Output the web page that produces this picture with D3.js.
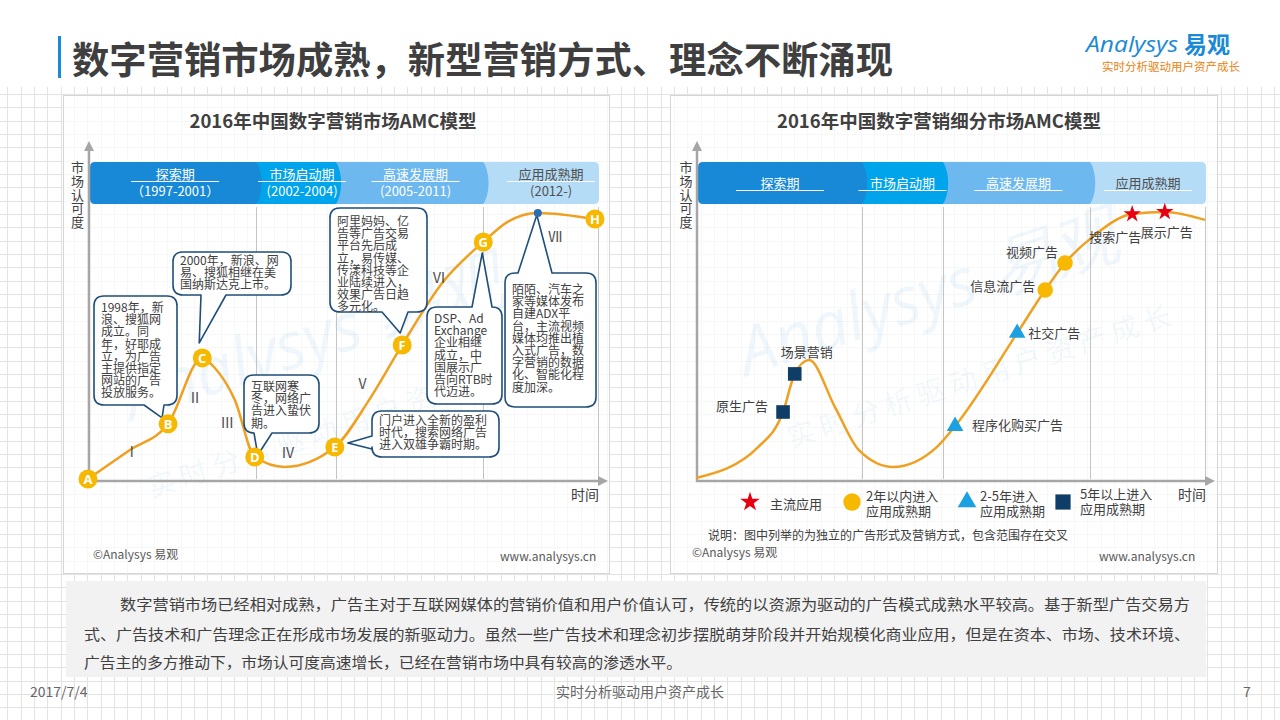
<!DOCTYPE html>
<html><head><meta charset="utf-8">
<script src="https://cdn.jsdelivr.net/npm/d3@7"></script>
<style>
body{margin:0;background:#fff;}
svg{display:block;font-family:"Noto Sans CJK SC","Noto Sans",sans-serif;}
</style></head><body>
<svg id="c" width="1280" height="720"></svg>
<script>
// ---------------- DATA ----------------
const pageTitle = "数字营销市场成熟，新型营销方式、理念不断涌现";
const leftTitle = "2016年中国数字营销市场AMC模型";
const rightTitle = "2016年中国数字营销细分市场AMC模型";
const axisYLabel = ["市","场","认","可","度"];
const axisXLabel = "时间";

const phaseNames = ["探索期","市场启动期","高速发展期","应用成熟期"];
const phaseYears = ["（1997-2001）","(2002-2004)","(2005-2011)","(2012-)"];
const leftPhaseBounds = [0, 33, 48.6, 77.5, 100];
const rightPhaseBounds = [0, 32.6, 48.5, 77.4, 100];

// left curve (time, recognition)
const leftCurveX = [0, 8.2, 15.7, 22.4, 24.7, 28.8, 32.7, 38.6, 48.4, 55.1, 61.6, 69.6, 77.5, 82.2, 88.2, 99.4];
const leftCurveY = [0.7, 11.2, 20.7, 44.6, 41.3, 29.3, 8.7, 5.1, 12.3, 29.3, 49.3, 72.1, 86.6, 93.8, 97.1, 94.9];

const milestoneLetters = ["A","B","C","D","E","F","G","","H"];
const milestoneX = [0, 15.7, 22.4, 32.7, 48.4, 61.6, 77.5, 88.2, 99.4];
const milestoneY = [0.7, 20.7, 44.6, 8.7, 12.3, 49.3, 86.6, 97.1, 94.9];

const stageNumerals = ["Ⅰ","Ⅱ","Ⅲ","Ⅳ","Ⅴ","Ⅵ","Ⅶ"];
const stageNumX = [8.6, 21.0, 27.3, 39.2, 53.8, 68.8, 91.6];
const stageNumY = [10.5, 30.1, 20.9, 10.1, 35.1, 73.6, 88.5];

const eventNotes = [
  ["1998年，新","浪、搜狐网","成立。同","年，好耶成","立，为广告","主提供指定","网站的广告","投放服务。"],
  ["2000年，新浪、网","易、搜狐相继在美","国纳斯达克上市。"],
  ["互联网寒","冬，网络广","告进入蛰伏","期。"],
  ["门户进入全新的盈利","时代，搜索网络广告","进入双雄争霸时期。"],
  ["阿里妈妈、亿","告等广告交易","平台先后成","立，易传媒、","传漾科技等企","业陆续进入，","效果广告日趋","多元化。"],
  ["DSP、Ad","Exchange","企业相继","成立，中","国展示广","告向RTB时","代迈进。"],
  ["陌陌、汽车之","家等媒体发布","自建ADX平","台，主流视频","媒体均推出植","入式广告，数","字营销的数据","化、智能化程","度加深。"]
];
const eventMilestone = [1, 2, 3, 4, 5, 6, 7];

// right curve
const rightCurveX = [0, 12.2, 17.1, 19.4, 22.2, 27.3, 32.0, 38.7, 47.3, 50.9, 63.1, 68.6, 72.5, 77.6, 85.7, 92.1, 100];
const rightCurveY = [1.1, 12.3, 25.0, 38.8, 43.8, 26.8, 11.2, 5.1, 12.3, 19.9, 53.6, 69.2, 79.0, 88.0, 96.7, 97.5, 94.6];

const adNames = ["原生广告","场景营销","程序化购买广告","社交广告","信息流广告","视频广告","搜索广告","展示广告"];
const adStage = [3, 3, 2, 2, 1, 1, 0, 0];
const adX = [17.1, 19.4, 50.9, 63.1, 68.6, 72.5, 85.7, 92.1];
const adY = [25.0, 38.8, 19.9, 53.6, 69.2, 79.0, 96.7, 97.5];

const legendLabels = [["主流应用"],["2年以内进入","应用成熟期"],["2-5年进入","应用成熟期"],["5年以上进入","应用成熟期"]];
const noteText = "说明：图中列举的为独立的广告形式及营销方式，包含范围存在交叉";
const sourceText = "©Analysys 易观";
const siteText = "www.analysys.cn";

const paragraph = [
  "数字营销市场已经相对成熟，广告主对于互联网媒体的营销价值和用户价值认可，传统的以资源为驱动的广告模式成熟水平较高。基于新型广告交易方",
  "式、广告技术和广告理念正在形成市场发展的新驱动力。虽然一些广告技术和理念初步摆脱萌芽阶段并开始规模化商业应用，但是在资本、市场、技术环境、",
  "广告主的多方推动下，市场认可度高速增长，已经在营销市场中具有较高的渗透水平。"
];
const footerDate = "2017/7/4";
const footerSlogan = "实时分析驱动用户资产成长";
const pageNumber = "7";

// ---------------- LAYOUT / STYLE ----------------
const TXT = "#404040";
const CURVE = "#f0a020";
const GOLD = "#f6b800";
const NAVY = "#1f4e79";
const bandColors = ["#1789d6","#00a4ea","#6db8ef","#b5dcf6"];
const bandTextColors = ["#fff","#fff","#fff","#505050"];
const stageColors = ["#e60012", GOLD, "#1ba1e2", "#0e3e68"];
const stageSymbols = [d3.symbolStar, d3.symbolCircle, d3.symbolTriangle, d3.symbolSquare];
const stageSizes = [95, 190, 120, 185];

const noteBoxes = [
  {x:94,y:296,w:83,h:109,ty:16,side:"bottom",a:144,b:164,dx:-6,dy:-6},
  {x:173,y:252,w:118,h:43,ty:13,side:"bottom",a:201,b:226,dx:-3,dy:-15},
  {x:244,y:375,w:75,h:58,ty:16,side:"bottom",a:254,b:272,dx:3,dy:-2},
  {x:372,y:411,w:127,h:46,ty:14,side:"left",a:436,b:449,dx:13,dy:-4},
  {x:330,y:208,w:97,h:104,ty:18,side:"bottom",a:382,b:408,dx:-2,dy:-12},
  {x:427,y:307,w:75,h:97,ty:16,side:"top",a:472,b:492,dx:-1,dy:11},
  {x:505,y:273,w:91,h:134,ty:21,side:"top",a:518,b:552,dx:-1,dy:2}
];
const adLabelPos = [
  {dx:-15,dy:-1,anchor:"end"},
  {dx:12,dy:-17,anchor:"middle"},
  {dx:17,dy:4,anchor:"start"},
  {dx:11,dy:5,anchor:"start"},
  {dx:-10,dy:1,anchor:"end"},
  {dx:-7,dy:-6,anchor:"end"},
  {dx:-17,dy:28,anchor:"middle"},
  {dx:2,dy:25,anchor:"middle"}
];

const svg = d3.select("#c");
svg.append("rect").attr("width",1280).attr("height",720).attr("fill","#fff");

// background grid
const gridStep = 1280/96;
const gridG = svg.append("g").attr("stroke","#e3e3e3").attr("stroke-width",1);
gridG.selectAll("line.gv").data(d3.range(7.3,1280,gridStep)).join("line").attr("class","gv")
  .attr("x1",d=>Math.round(d)+0.5).attr("x2",d=>Math.round(d)+0.5).attr("y1",87).attr("y2",720);
gridG.selectAll("line.gh").data(d3.range(94.0,720,gridStep)).join("line").attr("class","gh")
  .attr("y1",d=>Math.round(d)+0.5).attr("y2",d=>Math.round(d)+0.5).attr("x1",0).attr("x2",1280);

// header
svg.append("rect").attr("x",58).attr("y",36).attr("width",3).attr("height",42).attr("fill","#1a8ad6");
svg.append("text").attr("x",72).attr("y",74).attr("font-size",37).attr("font-weight","bold")
  .attr("fill","#3f3f3f").attr("textLength",821).attr("lengthAdjust","spacingAndGlyphs").text(pageTitle);
// logo
const logo = svg.append("g");
logo.append("text").attr("x",1086).attr("y",52).attr("font-size",21).attr("font-style","italic")
  .attr("font-family","'Open Sans',sans-serif").attr("fill","#1a8ad6").attr("textLength",92).attr("lengthAdjust","spacingAndGlyphs").text("Analysys");
logo.append("text").attr("x",1184).attr("y",53).attr("font-size",23).attr("font-weight","bold")
  .attr("fill","#1a8ad6").text("易观");
logo.append("text").attr("x",1102).attr("y",71).attr("font-size",11).attr("fill","#e8820f")
  .attr("textLength",138).attr("lengthAdjust","spacingAndGlyphs").text(footerSlogan);

// panels
[[63,95,546,478],[670,95,547,478]].forEach(([x,y,w,h])=>{
  svg.append("rect").attr("x",x+0.5).attr("y",y+0.5).attr("width",w).attr("height",h)
    .attr("fill","#fff").attr("fill-opacity",0.7).attr("stroke","#d6d6d6");
});

// watermark
function watermark(cx, cy, cx2, cy2){
  const g = svg.append("g").attr("fill","#2a8fd8").attr("fill-opacity",0.07);
  g.append("text").attr("transform",`translate(${cx},${cy}) rotate(-18)`).attr("text-anchor","middle")
    .attr("font-size",66).attr("font-family","'Open Sans',sans-serif").attr("font-style","italic").text("Analysys 易观");
  g.append("text").attr("transform",`translate(${cx2},${cy2}) rotate(-18)`).attr("text-anchor","middle")
    .attr("font-size",28).attr("letter-spacing",6).text(footerSlogan);
}
watermark(320, 360, 345, 435);
watermark(935, 315, 985, 385);

function segPath(xa, xb, top, bot, first, last){
  const r = 5, bump = 7;
  let p = first ? `M${xa+r},${top}` : `M${xa},${top}`;
  p += last ? `L${xb-r},${top}Q${xb},${top} ${xb},${top+r}L${xb},${bot-r}Q${xb},${bot} ${xb-r},${bot}`
            : `L${xb},${top}C${xb+bump},${top+10} ${xb+bump},${bot-10} ${xb},${bot}`;
  p += first ? `L${xa+r},${bot}Q${xa},${bot} ${xa},${bot-r}L${xa},${top+r}Q${xa},${top} ${xa+r},${top}Z` : `L${xa},${bot}Z`;
  return p;
}

function calloutPath(b, tx, ty){
  const {x,y,w,h} = b, r = 10;
  let p = `M${x+r},${y}`;
  if (b.side==="top") p += `L${b.a},${y}L${tx},${ty}L${b.b},${y}`;
  p += `L${x+w-r},${y}Q${x+w},${y} ${x+w},${y+r}L${x+w},${y+h-r}Q${x+w},${y+h} ${x+w-r},${y+h}`;
  if (b.side==="bottom") p += `L${b.b},${y+h}L${tx},${ty}L${b.a},${y+h}`;
  p += `L${x+r},${y+h}Q${x},${y+h} ${x},${y+h-r}`;
  if (b.side==="left") p += `L${x},${b.b}L${tx},${ty}L${x},${b.a}`;
  p += `L${x},${y+r}Q${x},${y} ${x+r},${y}Z`;
  return p;
}

function drawFrame(cfg){
  const {x, y, bounds, showYears, titleText, titleX, textOffsets, yLabelX, labelX} = cfg;
  const g = svg.append("g");
  g.append("text").attr("x",titleX).attr("y",128).attr("text-anchor","middle").attr("font-size",18.5)
    .attr("font-weight","bold").attr("fill",TXT).text(titleText);
  g.selectAll("line.div").data(bounds.slice(1)).join("line").attr("class","div")
    .attr("x1",d=>Math.round(x(d))+0.5).attr("x2",d=>Math.round(x(d))+0.5)
    .attr("y1",207).attr("y2",y(0)-2).attr("stroke","#c4c4c4").attr("stroke-width",1);
  const top = 162, bot = 204;
  const segs = phaseNames.map((n,i)=>({i, xa: i===0 ? x(bounds[0])+2 : x(bounds[i]), xb: x(bounds[i+1])+(i===3?1:0)}));
  g.selectAll("path.seg").data(segs.slice().reverse()).join("path").attr("class","seg")
    .attr("d",d=>segPath(d.xa,d.xb,top,bot,d.i===0,d.i===3)).attr("fill",d=>bandColors[d.i]);
  segs.forEach(d=>{
    const cx = (d.xa+d.xb)/2 + textOffsets[d.i];
    const ty = showYears ? 179 : 188;
    g.append("text").attr("x",cx).attr("y",ty).attr("text-anchor","middle").attr("font-size",13)
      .attr("fill",bandTextColors[d.i]).text(phaseNames[d.i]);
    g.append("line").attr("x1",cx-44).attr("x2",cx+44).attr("y1",ty+2.5).attr("y2",ty+2.5)
      .attr("stroke","#fff").attr("stroke-width",1);
    if (showYears) g.append("text").attr("x",cx).attr("y",196).attr("text-anchor","middle").attr("font-size",13)
      .attr("fill",bandTextColors[d.i]).text(phaseYears[d.i]);
  });
  const ax0 = x(0)+1, ay0 = y(0);
  const xEnd = x(100)+10;
  g.append("line").attr("x1",ax0).attr("x2",ax0).attr("y1",ay0+1).attr("y2",150).attr("stroke","#a6a6a6").attr("stroke-width",2.5);
  g.append("path").attr("d",`M${ax0},141L${ax0-5},151L${ax0+5},151Z`).attr("fill","#a6a6a6");
  g.append("line").attr("x1",ax0-1).attr("x2",xEnd-8).attr("y1",ay0).attr("y2",ay0).attr("stroke","#a6a6a6").attr("stroke-width",2.5);
  g.append("path").attr("d",`M${xEnd},${ay0}L${xEnd-10},${ay0-5}L${xEnd-10},${ay0+5}Z`).attr("fill","#a6a6a6");
  g.selectAll("text.yl").data(axisYLabel).join("text").attr("class","yl")
    .attr("x",yLabelX).attr("y",(d,i)=>172+i*13.8).attr("text-anchor","middle").attr("font-size",13).attr("fill",TXT).text(d=>d);
  g.append("text").attr("x",labelX).attr("y",500).attr("text-anchor","middle").attr("font-size",14).attr("fill",TXT).text(axisXLabel);
  return g;
}

// ---------------- LEFT CHART ----------------
const xL = d3.scaleLinear().domain([0,100]).range([88,598]);
const yL = d3.scaleLinear().domain([0,100]).range([481,205]);
const gL = drawFrame({x:xL, y:yL, bounds:leftPhaseBounds, showYears:true, titleText:leftTitle, titleX:333,
  textOffsets:[2,6,6,10], yLabelX:77.5, labelX:585});

const line = (xs, ys) => d3.line().x(i=>xs(i[0])).y(i=>ys(i[1])).curve(d3.curveMonotoneX);
gL.append("path").datum(leftCurveX.map((v,i)=>[v,leftCurveY[i]]))
  .attr("d",line(xL,yL)).attr("fill","none").attr("stroke",CURVE).attr("stroke-width",2.5);

gL.selectAll("text.num").data(stageNumerals).join("text").attr("class","num")
  .attr("x",(d,i)=>xL(stageNumX[i])).attr("y",(d,i)=>yL(stageNumY[i])+5).attr("text-anchor","middle")
  .attr("font-size",14).attr("fill","#505050").text(d=>d);

eventNotes.forEach((lines,k)=>{
  const b = noteBoxes[k], m = eventMilestone[k];
  const tx = xL(milestoneX[m]) + b.dx, ty = yL(milestoneY[m]) + b.dy;
  gL.append("path").attr("d",calloutPath(b,tx,ty)).attr("fill","#fff").attr("stroke",NAVY).attr("stroke-width",1.6).attr("stroke-linejoin","round");
  gL.append("g").selectAll("text").data(lines).join("text")
    .attr("x",b.x+7).attr("y",(d,i)=>b.y+b.ty+i*12.2).attr("font-size",12).attr("fill",TXT).text(d=>d);
});

const ms = gL.selectAll("g.ms").data(milestoneLetters).join("g").attr("class","ms")
  .attr("transform",(d,i)=>`translate(${xL(milestoneX[i])},${yL(milestoneY[i])})`);
ms.append("circle").attr("r",d=>d?9.5:4).attr("fill",d=>d?GOLD:"#2a6db3");
ms.filter(d=>d).append("text").attr("y",4.8).attr("text-anchor","middle").attr("font-size",13)
  .attr("font-weight","bold").attr("fill","#fff").attr("font-family","'Open Sans',sans-serif").text(d=>d);

gL.append("text").attr("x",93).attr("y",559).attr("font-size",12).attr("fill","#595959").text(sourceText);
gL.append("text").attr("x",500).attr("y",561).attr("font-size",12).attr("fill","#595959").text(siteText);

// ---------------- RIGHT CHART ----------------
const xR = d3.scaleLinear().domain([0,100]).range([696,1205]);
const yR = d3.scaleLinear().domain([0,100]).range([481,205]);
const gR = drawFrame({x:xR, y:yR, bounds:rightPhaseBounds, showYears:false, titleText:rightTitle, titleX:939,
  textOffsets:[0,0,2,0], yLabelX:686, labelX:1192});

gR.append("path").datum(rightCurveX.map((v,i)=>[v,rightCurveY[i]]))
  .attr("d",line(xR,yR)).attr("fill","none").attr("stroke",CURVE).attr("stroke-width",2.5);

const ads = gR.selectAll("g.ad").data(adNames).join("g").attr("class","ad")
  .attr("transform",(d,i)=>`translate(${xR(adX[i])},${yR(adY[i])})`);
ads.append("path").attr("d",(d,i)=>d3.symbol(stageSymbols[adStage[i]], stageSizes[adStage[i]])())
  .attr("fill",(d,i)=>stageColors[adStage[i]]);
ads.append("text").attr("x",(d,i)=>adLabelPos[i].dx).attr("y",(d,i)=>adLabelPos[i].dy)
  .attr("text-anchor",(d,i)=>adLabelPos[i].anchor).attr("font-size",13).attr("fill",TXT).text(d=>d);

const legX = [750, 852, 967, 1063];
const legTX = [770, 866, 980, 1080];
const lg = gR.selectAll("g.lg").data(legendLabels).join("g").attr("class","lg");
lg.append("path").attr("transform",(d,i)=>`translate(${legX[i]},502)`)
  .attr("d",(d,i)=>d3.symbol(stageSymbols[i], stageSizes[i]*1.25)()).attr("fill",(d,i)=>stageColors[i]);
lg.each(function(lines,i){
  d3.select(this).selectAll("text").data(lines).join("text")
    .attr("x",legTX[i]).attr("y",(d,j)=> lines.length===1 ? 509 : (i===3?499:501)+j*14.5)
    .attr("font-size",13).attr("fill",TXT).text(d=>d);
});
gR.append("text").attr("x",708).attr("y",540).attr("font-size",12.5).attr("fill",TXT)
  .attr("textLength",360).attr("lengthAdjust","spacingAndGlyphs").text(noteText);
gR.append("text").attr("x",692).attr("y",557).attr("font-size",12).attr("fill","#595959").text(sourceText);
gR.append("text").attr("x",1099).attr("y",561).attr("font-size",12).attr("fill","#595959").text(siteText);

// ---------------- PARAGRAPH ----------------
svg.append("rect").attr("x",66).attr("y",581).attr("width",1140).attr("height",96).attr("fill","#f2f2f2");
const paraX = [120, 84, 84], paraY = [610, 640, 668], paraW = [1070, 1106, 598];
svg.selectAll("text.para").data(paragraph).join("text").attr("class","para")
  .attr("x",(d,i)=>paraX[i]).attr("y",(d,i)=>paraY[i]).attr("font-size",15).attr("fill",TXT)
  .attr("textLength",(d,i)=>paraW[i]).attr("lengthAdjust","spacingAndGlyphs").text(d=>d);

svg.append("text").attr("x",30).attr("y",697).attr("font-size",14).attr("fill","#666").text(footerDate);
svg.append("text").attr("x",640).attr("y",697).attr("text-anchor","middle").attr("font-size",14).attr("fill","#666").text(footerSlogan);
svg.append("text").attr("x",1243).attr("y",697).attr("font-size",14).attr("fill","#666").text(pageNumber);
</script>
</body></html>
